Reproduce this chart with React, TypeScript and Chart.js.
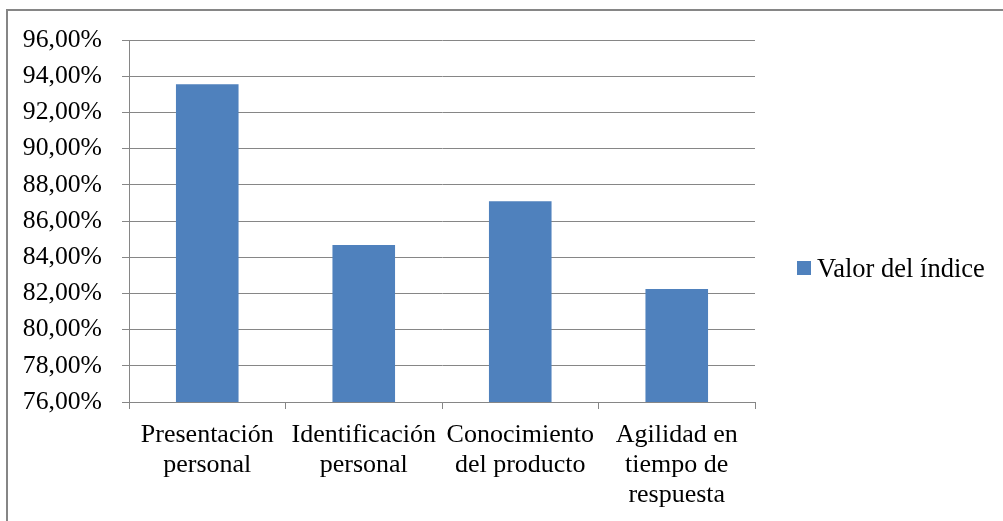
import React, { useEffect, useRef } from "react";
import { Chart, registerables } from "chart.js";

Chart.register(...registerables);

const categories: string[][] = [
  ["Presentación", "personal"],
  ["Identificación", "personal"],
  ["Conocimiento", "del producto"],
  ["Agilidad en", "tiempo de", "respuesta"],
];
const seriesName = "Valor del índice";
const values: number[] = [93.55, 84.67, 87.09, 82.24];
const yMin = 76;
const yMax = 96;
const yStep = 2;

const BAR = "#4F81BD";
const GRID = "#868686";
const FONT = "'Liberation Serif', 'Times New Roman', serif";

export default function App() {
  const ref = useRef<HTMLCanvasElement | null>(null);

  useEffect(() => {
    const prevMargin = document.body.style.margin;
    document.body.style.margin = "0";
    if (!ref.current) return;
    const chart = new Chart(ref.current, {
      type: "bar",
      data: {
        labels: categories,
        datasets: [
          {
            label: seriesName,
            data: values,
            backgroundColor: BAR,
            borderWidth: 0,
            barPercentage: 0.4,
            categoryPercentage: 1,
          },
        ],
      },
      options: {
        animation: false,
        responsive: false,
        maintainAspectRatio: false,
        layout: { padding: { left: 0, right: 248, top: 40, bottom: 0 } },
        plugins: {
          legend: { display: false },
          tooltip: { enabled: false },
        },
        scales: {
          x: {
            offset: true,
            grid: {
              offset: true,
              drawOnChartArea: false,
              drawTicks: true,
              tickLength: 7,
              color: GRID,
              lineWidth: 1,
            },
            border: { color: GRID, width: 1 },
            ticks: {
              color: "#000",
              font: { family: FONT, size: 26, lineHeight: 1.15 },
              padding: 11,
              maxRotation: 0,
              minRotation: 0,
              autoSkip: false,
            },
            afterFit: (scale: any) => {
              scale.height = 119;
            },
          },
          y: {
            min: yMin,
            max: yMax,
            grid: {
              color: GRID,
              lineWidth: 1,
              drawTicks: true,
              tickLength: 7,
            },
            border: { color: GRID, width: 1 },
            ticks: {
              stepSize: yStep,
              color: "#000",
              font: { family: FONT, size: 25.7 },
              padding: 20,
              callback: (v: any) => Number(v).toFixed(2).replace(".", ",") + "%",
            },
            afterFit: (scale: any) => {
              scale.width = 129;
            },
          },
        },
      },
    });
    return () => {
      chart.destroy();
      document.body.style.margin = prevMargin;
    };
  }, []);

  return (
    <div
      style={{
        position: "absolute",
        left: 0,
        top: 0,
        width: 1003,
        height: 521,
        overflow: "hidden",
        background: "#fff",
      }}
    >
      <div
        style={{
          position: "absolute",
          left: 6,
          top: 9,
          width: 1010,
          height: 530,
          borderLeft: `2px solid ${GRID}`,
          borderTop: `2px solid ${GRID}`,
          boxSizing: "border-box",
        }}
      />
      <canvas
        ref={ref}
        width={1003}
        height={521}
        style={{ position: "absolute", left: 0, top: 0, width: 1003, height: 521 }}
      />
      <div
        style={{
          position: "absolute",
          left: 797,
          top: 252,
          height: 32,
          display: "flex",
          alignItems: "center",
          fontFamily: FONT,
          fontSize: 26.5,
          color: "#000",
          whiteSpace: "nowrap",
        }}
      >
        <span
          style={{
            display: "inline-block",
            width: 14,
            height: 14,
            background: BAR,
            marginRight: 6,
          }}
        />
        <span>{seriesName}</span>
      </div>
    </div>
  );
}
